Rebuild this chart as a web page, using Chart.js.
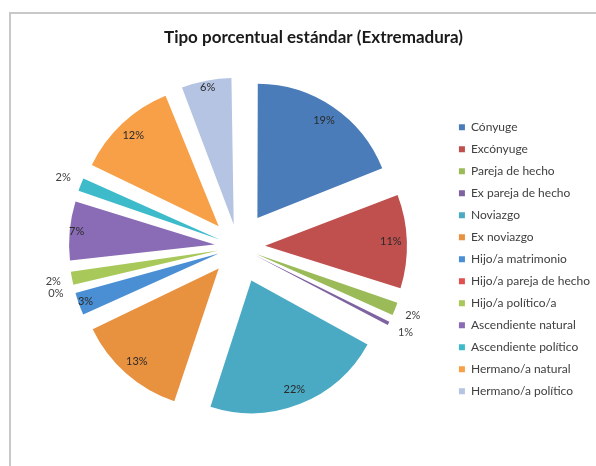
<!DOCTYPE html>
<html lang="es">
<head>
<meta charset="UTF-8">
<title>Tipo porcentual estándar (Extremadura)</title>
<script src="https://cdn.jsdelivr.net/npm/chart.js"></script>
<style>
    html, body {
        margin: 0;
        padding: 0;
        background: #ffffff;
        overflow: hidden;
    }
    #wrap {
        position: relative;
        width: 596px;
        height: 466px;
    }
    #frame {
        position: absolute;
        left: 9px;
        top: 12px;
        width: 600px;
        height: 470px;
        border-left: 2px solid #c8c8c8;
        border-top: 2px solid #c8c8c8;
        pointer-events: none;
    }
    canvas {
        position: absolute;
        left: 0;
        top: 0;
    }
</style>
</head>
<body>
<div id="wrap">
    <canvas id="pieChart" width="596" height="466"></canvas>
    <div id="frame"></div>
</div>
<script>
// datos
const categorias = [
    'Cónyuge', 'Excónyuge', 'Pareja de hecho', 'Ex pareja de hecho', 'Noviazgo',
    'Ex noviazgo', 'Hijo/a matrimonio', 'Hijo/a pareja de hecho', 'Hijo/a político/a',
    'Ascendiente natural', 'Ascendiente político', 'Hermano/a natural', 'Hermano/a político'
];
const porcentajes = [19, 11, 2, 1, 22, 13, 3, 0, 2, 7, 2, 12, 6];
const colores = [
    '#4a7cb9', '#bf504d', '#9bbb59', '#7f63a1', '#4aaac4',
    '#e8913f', '#4a8fd4', '#e0504f', '#a8c95a', '#8a6bb5',
    '#3dbbcb', '#f8a047', '#b5c4e2'
];

const EXPLODE = 37;   // separación de cada porción (px)
const RADIO = 132;
const total = porcentajes.reduce((a, b) => a + b, 0);

// Chart.js reparte el offset de forma distinta según el ángulo; lo compensamos
function offsetPorcion(ctx) {
    const theta = (ctx.raw / total) * Math.PI * 2;
    return EXPLODE * 4 / (2 - Math.sin(Math.min(Math.PI, theta)));
}

// etiquetas de porcentaje
const etiquetas = {
    id: 'etiquetas',
    afterDatasetsDraw(chart) {
        const { ctx } = chart;
        const meta = chart.getDatasetMeta(0);
        ctx.save();
        ctx.font = '11px Lato, "DejaVu Sans", sans-serif';
        ctx.textAlign = 'center';
        ctx.textBaseline = 'middle';
        meta.data.forEach((arc, i) => {
            const v = porcentajes[i];
            const h = (arc.startAngle + arc.endAngle) / 2;
            const cx = arc.x + Math.cos(h) * EXPLODE;
            const cy = arc.y + Math.sin(h) * EXPLODE;
            let d;
            if (v < 3) {
                d = arc.outerRadius + 19;
                ctx.fillStyle = '#404040';
            } else {
                d = v < 8 ? arc.outerRadius - 7 : arc.outerRadius - 16;
                ctx.fillStyle = '#2a2a2a';
            }
            ctx.fillText(v + '%', cx + Math.cos(h) * d, cy + Math.sin(h) * d);
        });
        ctx.restore();
    }
};

new Chart(document.getElementById('pieChart'), {
    type: 'pie',
    data: {
        labels: categorias,
        datasets: [{
            data: porcentajes,
            backgroundColor: colores,
            borderWidth: 0,
            offset: offsetPorcion
        }]
    },
    options: {
        responsive: false,
        animation: false,
        radius: RADIO,
        layout: {
            padding: { left: 27, right: -4, top: 0, bottom: 29 }
        },
        plugins: {
            title: {
                display: true,
                text: 'Tipo porcentual estándar (Extremadura)',
                color: '#1a1a1a',
                font: { family: 'Lato, "DejaVu Sans", sans-serif', size: 17, weight: 'bold', lineHeight: 1.2 },
                padding: { top: 27, bottom: 9 }
            },
            legend: {
                position: 'right',
                align: 'center',
                fullSize: false,
                title: {
                    display: true,
                    text: '',
                    font: { size: 10, lineHeight: 1 },
                    padding: { top: 0, bottom: 15 }
                },
                labels: {
                    boxWidth: 6,
                    boxHeight: 6,
                    padding: 10,
                    color: '#404040',
                    font: { family: 'Lato, "DejaVu Sans", sans-serif', size: 12 }
                }
            },
            tooltip: { enabled: false }
        }
    },
    plugins: [etiquetas]
});
</script>
</body>
</html>
